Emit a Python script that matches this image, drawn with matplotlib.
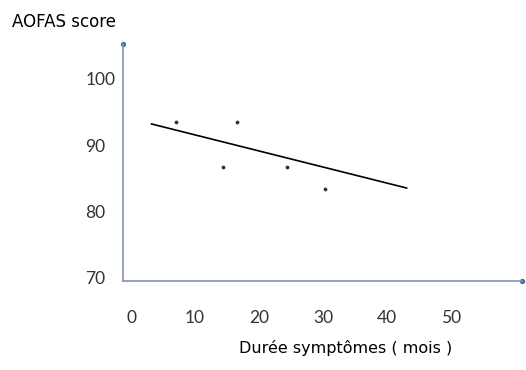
import matplotlib
matplotlib.use("Agg")
import matplotlib.pyplot as plt

# values
duree = [7.1, 16.5, 14.4, 24.4, 30.4]
score = [93.5, 93.5, 86.7, 86.7, 83.45]
trend_x = [3.2, 43.1]
trend_y = [93.2, 83.55]

x_ticks = [0, 10, 20, 30, 40, 50]
y_ticks = [70, 80, 90, 100]

axis_col = "#8394ad"

fig = plt.figure(figsize=(5.26, 3.70), dpi=100)
ax = fig.add_axes([0.2333, 0.2414, 0.759, 0.6397])

ax.scatter(duree, score, s=3, color="#333333", zorder=3)
ax.plot(trend_x, trend_y, color="black", lw=1.2)

ax.set_xlim(-1.31, 61.14)
ax.set_ylim(69.59, 105.25)

for side in ["top", "right"]:
    ax.spines[side].set_visible(False)
for side in ["left", "bottom"]:
    ax.spines[side].set_color(axis_col)
    ax.spines[side].set_linewidth(1.2)

# small dots at the axis ends
x0, x1 = ax.get_xlim()
y0, y1 = ax.get_ylim()
ax.plot([x0], [y1], "o", ms=2.8, color="#4a6fa5", clip_on=False)
ax.plot([x1], [y0], "o", ms=2.8, color="#4a6fa5", clip_on=False)

ax.set_xticks(x_ticks)
ax.set_yticks(y_ticks)
ax.set_xticklabels([str(v) for v in x_ticks], fontsize=12.5, color="#333333",
                   family="Lato")
ax.set_yticklabels([str(v) for v in y_ticks], fontsize=12.5, color="#333333",
                   family="Lato", ha="left")
ax.tick_params(axis="x", length=0, pad=21)
ax.tick_params(axis="y", length=0, pad=27)

fig.text(0.022, 0.94, "AOFAS score", fontsize=12, color="black", va="center")
fig.text(0.658, 0.06, "Durée symptômes ( mois )", fontsize=11.5,
         color="black", ha="center", va="center")

fig.savefig("out.png", dpi=100)
